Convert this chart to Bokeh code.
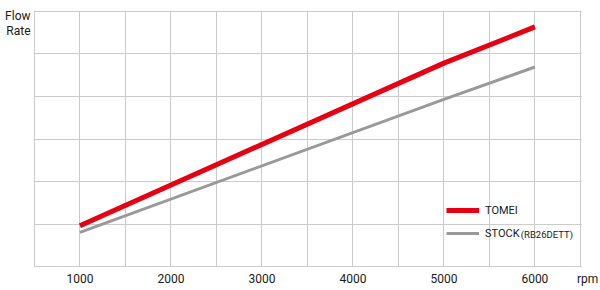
from bokeh.plotting import figure
from bokeh.models import FixedTicker, Label, Legend, LegendItem, Range1d, BoxAnnotation
from bokeh.embed import file_html
from bokeh.resources import INLINE

rpm = [1000, 5000, 6000]
tomei = [0.965, 4.78, 5.63]
stock = [0.81, 3.93, 4.69]
x_ticks = [1000, 2000, 3000, 4000, 5000, 6000]
x_unit = "rpm"
y_title = ["Flow", "Rate"]
grid_x = [500, 1000, 1500, 2000, 2500, 3000, 3500, 4000, 4500, 5000, 5500, 6000, 6500]
grid_y = [0, 1, 2, 3, 4, 5, 6]

FONT = "Roboto"
GRID = "#cccccc"
TXT = "#1a1a1a"

p = figure(width=600, height=290, output_backend="svg", toolbar_location=None,
           x_range=Range1d(490, 6721), y_range=Range1d(-0.015, 6.015))
p.min_border_left = 33
p.min_border_right = 0
p.min_border_top = 10
p.min_border_bottom = 23
p.outline_line_color = None
p.background_fill_color = "white"
p.border_fill_color = "white"

# x axis: numeric ticks plus the unit at the right end
ax = p.xaxis[0]
ax.ticker = FixedTicker(ticks=x_ticks + [6580])
ax.major_label_overrides = {6580: x_unit}
ax.axis_line_color = None
ax.major_tick_line_color = None
ax.minor_tick_line_color = None
ax.major_tick_out = 0
ax.major_tick_in = 0
ax.major_label_standoff = 4
ax.major_label_text_font = FONT
ax.major_label_text_font_size = "12px"
ax.major_label_text_color = TXT

# y axis: only carries the "Flow / Rate" title at the top-left
ay = p.yaxis[0]
ay.ticker = FixedTicker(ticks=[5.88, 5.54])
ay.major_label_overrides = {5.88: y_title[0], 5.54: y_title[1]}
ay.axis_line_color = None
ay.major_tick_line_color = None
ay.minor_tick_line_color = None
ay.major_tick_out = 0
ay.major_tick_in = 0
ay.major_label_standoff = 3
ay.major_label_text_font = FONT
ay.major_label_text_font_size = "12px"
ay.major_label_text_color = TXT

p.xgrid.ticker = FixedTicker(ticks=grid_x)
p.ygrid.ticker = FixedTicker(ticks=grid_y)
p.xgrid.grid_line_color = GRID
p.ygrid.grid_line_color = GRID

# blank strip right of the chart box (room for the unit label)
p.add_layout(BoxAnnotation(left=grid_x[-1] + 15, fill_color="white", fill_alpha=1,
                           line_color=None))

r_tomei = p.line(rpm, tomei, line_color="#e60012", line_width=5)
r_stock = p.line(rpm, stock, line_color="#999999", line_width=3)

legend = Legend(items=[LegendItem(label="TOMEI", renderers=[r_tomei]),
                       LegendItem(label="STOCK", renderers=[r_stock])],
                location=(413, 24), orientation="vertical",
                background_fill_alpha=0, border_line_color=None,
                padding=0, margin=0, spacing=3,
                glyph_width=33, glyph_height=20, label_height=20,
                label_standoff=6,
                label_text_font=FONT, label_text_font_size="11px",
                label_text_color=TXT)
p.add_layout(legend, "center")

p.add_layout(Label(x=5845, y=0.77, text="(RB26DETT)", text_font=FONT,
                   text_font_size="9.5px", text_color=TXT,
                   text_baseline="middle"))

open("out.html", "w").write(file_html(p, INLINE))
